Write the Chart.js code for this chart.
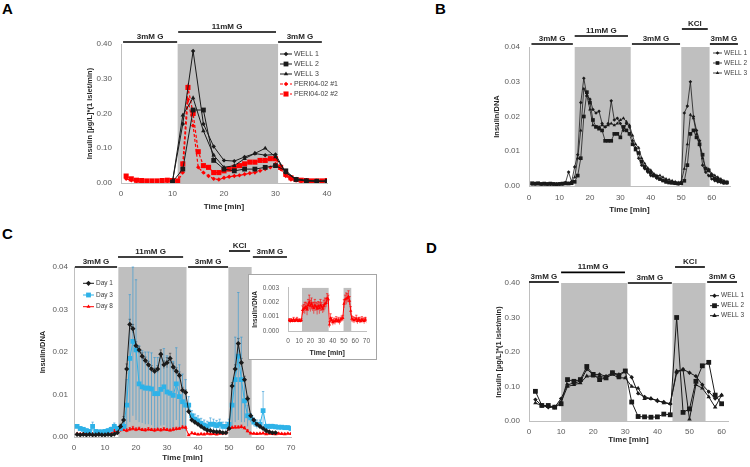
<!DOCTYPE html>
<html lang="en">
<head>
    <meta charset="UTF-8">
    <title>Perifusion insulin secretion</title>
    <style>
        * { margin: 0; padding: 0; box-sizing: border-box; }
        body { width: 750px; height: 467px; background: #fff; position: relative; overflow: hidden; font-family: "Liberation Sans", Arial, sans-serif; }
        canvas { position: absolute; display: block; }
        .tag { position: absolute; font: bold 15px/1 "Liberation Sans", Arial, sans-serif; color: #000; }
        .inset { position: absolute; left: 248px; top: 274px; width: 129px; height: 86px; border: 1px solid #a6a6a6; background: #fff; }
        .inset canvas { left: 0; top: 0; }
    </style>
    <script src="https://cdn.jsdelivr.net/npm/chart.js"></script>
</head>
<body>
    <div class="tag" style="left:2px; top:1px;">A</div>
    <div class="tag" style="left:435px; top:1px;">B</div>
    <div class="tag" style="left:2px; top:226px;">C</div>
    <div class="tag" style="left:426px; top:240px;">D</div>

    <canvas id="chartA" width="375" height="220" style="left:0; top:0;"></canvas>
    <canvas id="chartB" width="375" height="220" style="left:375px; top:0;"></canvas>
    <canvas id="chartC" width="375" height="242" style="left:0; top:225px;"></canvas>
    <canvas id="chartD" width="375" height="242" style="left:375px; top:225px;"></canvas>
    <div class="inset"><canvas id="chartInset" width="127" height="84"></canvas></div>

    <script>
        // ---- A: insulin [ug/L]*(1 islet/min)
        const timeAWells = [10, 12, 14, 16, 18, 20, 22, 24, 26, 28, 30, 32, 34, 36, 38, 40];
        const wellA1 = [0.005, 0.17, 0.38, 0.17, 0.105, 0.065, 0.063, 0.075, 0.085, 0.08, 0.082, 0.03, 0.012, 0.008, 0.006, 0.006];
        const wellA2 = [0.003, 0.04, 0.21, 0.21, 0.065, 0.04, 0.035, 0.04, 0.04, 0.045, 0.05, 0.035, 0.01, 0.006, 0.005, 0.005];
        const wellA3 = [0.004, 0.195, 0.245, 0.15, 0.08, 0.045, 0.05, 0.07, 0.085, 0.1, 0.075, 0.03, 0.01, 0.006, 0.005, 0.005];
        const timeAPeri = [1, 2, 3, 4, 5, 6, 7, 8, 9, 10, 11, 12, 13, 14, 15, 16, 17, 18, 19, 20,
                           21, 22, 23, 24, 25, 26, 27, 28, 29, 30, 31, 32, 33, 34, 35, 36, 37, 38, 39, 40];
        const periA1 = [0.012, 0.008, 0.005, 0.005, 0.004, 0.004, 0.004, 0.005, 0.005, 0.005,
                        0.005, 0.03, 0.24, 0.165, 0.045, 0.03, 0.02, 0.012, 0.01, 0.015,
                        0.018, 0.02, 0.022, 0.025, 0.028, 0.03, 0.035, 0.04, 0.045, 0.055,
                        0.04, 0.02, 0.01, 0.007, 0.005, 0.005, 0.004, 0.004, 0.004, 0.005];
        const periA2 = [0.02, 0.012, 0.008, 0.007, 0.006, 0.006, 0.006, 0.007, 0.008, 0.007,
                        0.006, 0.055, 0.275, 0.2, 0.09, 0.05, 0.045, 0.03, 0.03, 0.035,
                        0.04, 0.045, 0.05, 0.055, 0.06, 0.06, 0.065, 0.065, 0.07, 0.07,
                        0.045, 0.025, 0.015, 0.01, 0.008, 0.007, 0.006, 0.006, 0.006, 0.007];

        // ---- B: insulin/DNA, 3 wells
        const timeB = [1, 2, 3, 4, 5, 6, 7, 8, 9, 10, 11, 12, 13, 14, 15, 16, 17, 18, 19, 20,
                       21, 22, 23, 24, 25, 26, 27, 28, 29, 30, 31, 32, 33, 34, 35, 36, 37, 38, 39, 40,
                       41, 42, 43, 44, 45, 46, 47, 48, 49, 50, 51, 52, 53, 54, 55, 56, 57, 58, 59, 60,
                       61, 62, 63, 64, 65];
        const wellB1 = [0.0006, 0.0005, 0.0007, 0.0005, 0.0006, 0.0005, 0.0004, 0.0005, 0.0006, 0.0005,
                        0.0006, 0.001, 0.004, 0.0012, 0.0055, 0.009, 0.024, 0.031, 0.026, 0.025,
                        0.022, 0.021, 0.0215, 0.018, 0.017, 0.018, 0.0245, 0.019, 0.0195, 0.018,
                        0.016, 0.018, 0.017, 0.013, 0.011, 0.008, 0.006, 0.005, 0.004, 0.003,
                        0.003, 0.0022, 0.002, 0.0015, 0.0012, 0.001, 0.001, 0.0008, 0.0006, 0.001,
                        0.021, 0.023, 0.03, 0.02, 0.016, 0.013, 0.006, 0.004, 0.003, 0.002,
                        0.0015, 0.0012, 0.001, 0.0008, 0.0008];
        const wellB2 = [0.0008, 0.0007, 0.0008, 0.0006, 0.0007, 0.0006, 0.0007, 0.0006, 0.0005, 0.0006,
                        0.0007, 0.0008, 0.0007, 0.0008, 0.0012, 0.003, 0.008, 0.02, 0.027, 0.024,
                        0.019, 0.017, 0.0165, 0.016, 0.013, 0.013, 0.013, 0.015, 0.015, 0.014,
                        0.017, 0.016, 0.015, 0.012, 0.0105, 0.0095, 0.007, 0.0055, 0.0045, 0.0038,
                        0.003, 0.0026, 0.002, 0.0016, 0.0012, 0.001, 0.0009, 0.0008, 0.0007, 0.0008,
                        0.0015, 0.006, 0.015, 0.016, 0.014, 0.012, 0.009, 0.005, 0.0045, 0.003,
                        0.0022, 0.0018, 0.0014, 0.001, 0.001];
        const wellB3 = [0.0004, 0.0005, 0.0004, 0.0005, 0.0004, 0.0004, 0.0005, 0.0004, 0.0004, 0.0005,
                        0.0004, 0.0005, 0.0008, 0.0012, 0.0025, 0.008, 0.016, 0.028, 0.026, 0.022,
                        0.0175, 0.017, 0.017, 0.0175, 0.017, 0.0175, 0.018, 0.0175, 0.018, 0.019,
                        0.0195, 0.0185, 0.0175, 0.0145, 0.012, 0.011, 0.008, 0.0065, 0.0052, 0.0045,
                        0.0035, 0.003, 0.003, 0.0025, 0.002, 0.0018, 0.0015, 0.0012, 0.001, 0.0012,
                        0.005, 0.012, 0.0205, 0.0195, 0.015, 0.012, 0.008, 0.005, 0.0048, 0.0035,
                        0.003, 0.0025, 0.002, 0.0015, 0.0012];

        // ---- C: insulin/DNA by culture day, mean and error
        const timeC = [1, 2, 3, 4, 5, 6, 7, 8, 9, 10, 11, 12, 13, 14, 15, 16, 17, 18, 19, 20,
                       21, 22, 23, 24, 25, 26, 27, 28, 29, 30, 31, 32, 33, 34, 35, 36, 37, 38, 39, 40,
                       41, 42, 43, 44, 45, 46, 47, 48, 49, 50, 51, 52, 53, 54, 55, 56, 57, 58, 59, 60,
                       61, 62, 63, 64, 65, 66, 67, 68, 69, 70];
        const day1 = [0.0006, 0.0005, 0.0006, 0.0005, 0.0006, 0.0005, 0.0005, 0.0006, 0.0005, 0.0005,
                      0.0006, 0.0005, 0.0007, 0.001, 0.0025, 0.004, 0.016, 0.0265, 0.0255, 0.0215,
                      0.0205, 0.019, 0.018, 0.017, 0.016, 0.0155, 0.016, 0.0195, 0.017, 0.0175,
                      0.0185, 0.0165, 0.0155, 0.0145, 0.011, 0.0105, 0.006, 0.004, 0.0035, 0.003,
                      0.0025, 0.002, 0.0016, 0.0015, 0.0013, 0.0012, 0.0012, 0.001, 0.001, 0.002,
                      0.012, 0.016, 0.022, 0.0175, 0.0135, 0.009, 0.005, 0.004, 0.003, 0.0025,
                      0.002, 0.0015, 0.0012, 0.001, 0.001, null, null, null, null, null];
        const day1Err = [0.0002, 0.0002, 0.0002, 0.0002, 0.0002, 0.0002, 0.0002, 0.0002, 0.0002, 0.0002,
                         0.0002, 0.0002, 0.0002, 0.0003, 0.0005, 0.0008, 0.0012, 0.0012, 0.001, 0.0009,
                         0.0008, 0.0008, 0.0008, 0.0008, 0.0008, 0.0007, 0.0008, 0.001, 0.0009, 0.0012,
                         0.0012, 0.0009, 0.0008, 0.0008, 0.0007, 0.0006, 0.0005, 0.0005, 0.0004, 0.0003,
                         0.0003, 0.0003, 0.0003, 0.0002, 0.0002, 0.0002, 0.0002, 0.0002, 0.0002, 0.0003,
                         0.0008, 0.001, 0.0012, 0.001, 0.0008, 0.0006, 0.0004, 0.0003, 0.0002, 0.0002,
                         0.0002, 0.0002, 0.0002, 0.0002, 0.0002, null, null, null, null, null];
        const day3 = [0.0025, 0.002, 0.0018, 0.0015, 0.0013, 0.0025, 0.0013, 0.0012, 0.0012, 0.0013,
                      0.0015, 0.0018, 0.0025, 0.002, 0.002, 0.0025, 0.0075, 0.0185, 0.0225, 0.0205,
                      0.0125, 0.0118, 0.0115, 0.0115, 0.0113, 0.0102, 0.0102, 0.0112, 0.0118, 0.0106,
                      0.0103, 0.0098, 0.0125, 0.0095, 0.0083, 0.0075, 0.0075, 0.005, 0.0042, 0.0038,
                      0.0032, 0.0028, 0.0025, 0.003, 0.003, 0.0027, 0.003, 0.0025, 0.0025, 0.003,
                      0.0075, 0.0135, 0.019, 0.0135, 0.0085, 0.005, 0.0045, 0.0035, 0.003, 0.003,
                      0.0062, 0.0025, 0.0025, 0.0025, 0.0024, 0.0023, 0.0023, 0.0022, 0.0022, 0.002];
        const day3Err = [0.0004, 0.0004, 0.0004, 0.0004, 0.0004, 0.001, 0.0004, 0.0004, 0.0004, 0.0004,
                         0.0004, 0.0005, 0.0008, 0.0005, 0.0005, 0.0008, 0.006, 0.015, 0.0175, 0.0165,
                         0.009, 0.0085, 0.0085, 0.0085, 0.0085, 0.0085, 0.0085, 0.0085, 0.009, 0.0085,
                         0.0085, 0.008, 0.0085, 0.0075, 0.0065, 0.006, 0.002, 0.0012, 0.0012, 0.0012,
                         0.0012, 0.0012, 0.0012, 0.0015, 0.0012, 0.0012, 0.0012, 0.001, 0.001, 0.0012,
                         0.005, 0.01, 0.015, 0.01, 0.005, 0.0025, 0.001, 0.001, 0.001, 0.001,
                         0.0045, 0.0005, 0.0005, 0.0005, 0.0004, 0.0004, 0.0004, 0.0004, 0.0004, 0.0004];
        const day8 = [0.00075, 0.0007, 0.00075, 0.0007, 0.0008, 0.0007, 0.00075, 0.0008, 0.0007, 0.00075,
                      0.0007, 0.00075, 0.00145, 0.00155, 0.0016, 0.0017, 0.0015, 0.0018, 0.002, 0.00175,
                      0.0019, 0.0017, 0.0016, 0.0018, 0.0017, 0.00155, 0.00175, 0.0016, 0.0018, 0.0017,
                      0.00155, 0.00175, 0.0019, 0.00195, 0.0023, 0.0022, 0.00045, 0.0009, 0.00075, 0.0006,
                      0.0007, 0.00065, 0.0008, 0.0007, 0.00075, 0.00065, 0.0008, 0.00085, 0.0009, 0.0019,
                      0.0022, 0.00225, 0.0023, 0.0024, 0.0021, 0.0014, 0.00085, 0.0008, 0.00075, 0.0008,
                      0.00085, 0.0007, 0.0008, 0.00075, 0.0007, 0.0008, 0.00075, 0.0007, 0.0008, 0.00075];
        const day8Err = [0.0001, 0.00015, 0.0001, 0.0001, 0.00015, 0.0001, 0.0001, 0.00015, 0.0001, 0.0001,
                         0.0001, 0.0001, 0.0003, 0.0003, 0.0004, 0.0003, 0.0004, 0.0004, 0.0005, 0.0004,
                         0.0004, 0.0003, 0.0004, 0.0004, 0.0003, 0.0004, 0.0003, 0.0004, 0.0004, 0.0003,
                         0.0003, 0.0004, 0.0004, 0.0003, 0.0003, 0.0003, 0.0002, 0.0003, 0.0002, 0.0002,
                         0.0002, 0.0002, 0.0002, 0.00015, 0.0002, 0.0002, 0.00015, 0.0002, 0.0002, 0.0003,
                         0.0003, 0.0004, 0.0003, 0.0004, 0.0003, 0.0003, 0.0002, 0.0002, 0.0002, 0.00015,
                         0.00025, 0.0002, 0.00015, 0.0002, 0.00015, 0.0002, 0.00015, 0.0002, 0.00015, 0.0002];

        // ---- D: insulin [ug/L]*(1 islet/min), 2 min fractions
        const timeD = [2, 4, 6, 8, 10, 12, 14, 16, 18, 20, 22, 24, 26, 28, 30,
                       32, 34, 36, 38, 40, 42, 44, 46, 48, 50, 52, 54, 56, 58, 60];
        const wellD1 = [0.062, 0.045, 0.04, 0.04, 0.065, 0.105, 0.11, 0.115, 0.15, 0.135, 0.135, 0.13, 0.14, 0.135, 0.145,
                        0.127, 0.08, 0.07, 0.065, 0.058, 0.055, 0.05, 0.14, 0.15, 0.14, 0.13, 0.105, 0.085, 0.065, 0.075];
        const wellD2 = [0.086, 0.045, 0.045, 0.04, 0.05, 0.12, 0.115, 0.12, 0.158, 0.135, 0.12, 0.125, 0.14, 0.13, 0.145,
                        0.055, 0.013, 0.012, 0.011, 0.012, 0.02, 0.018, 0.30, 0.025, 0.035, 0.115, 0.16, 0.17, 0.075, 0.05];
        const wellD3 = [0.052, 0.045, 0.042, 0.04, 0.055, 0.1, 0.105, 0.11, 0.13, 0.13, 0.13, 0.125, 0.135, 0.125, 0.125,
                        0.1, 0.095, 0.065, 0.065, 0.06, 0.052, 0.05, 0.145, 0.148, 0.005, 0.105, 0.095, 0.07, 0.04, 0.075];

        // stimulation protocol (minutes)
        const shadesA = [[11, 30.5]];
        const shadesB = [[15, 33.4], [50, 59.3]];
        const shadesC = [[14.3, 36.3], [49.8, 57.3]];
        const shadesInset = [[12.5, 36.3], [49.6, 56.5]];
        const shadesD = [[10, 30.6], [44.7, 55]];

        Chart.defaults.font.family = "'Liberation Sans', Arial, sans-serif";
        Chart.defaults.color = '#595959';
        Chart.defaults.animation = false;

        const BLACK = '#1a1a1a', RED = '#ff0000', BLUE = '#2eb2e8';

        function marker(ctx, style, r, x, y) {
            if (Chart.helpers && Chart.helpers.drawPoint) {
                Chart.helpers.drawPoint(ctx, { pointStyle: style, radius: r, rotation: 0, borderWidth: 0 }, x, y);
                return;
            }
            ctx.beginPath();
            ctx.arc(x, y, r, 0, Math.PI * 2);
            ctx.fill();
        }

        const deco = {
            id: 'deco',
            beforeDatasetsDraw(chart, args, opts) {
                const { ctx, chartArea: a, scales: { x, y } } = chart;
                ctx.save();
                ctx.fillStyle = '#bfbfbf';
                (opts.shades || []).forEach(s => {
                    const x0 = x.getPixelForValue(s[0]), x1 = x.getPixelForValue(s[1]);
                    ctx.fillRect(x0, a.top, x1 - x0, a.bottom - a.top);
                });
                ctx.beginPath();
                ctx.rect(a.left, a.top - 1, a.right - a.left, a.bottom - a.top + 1);
                ctx.clip();
                chart.data.datasets.forEach((ds, i) => {
                    if (!ds.errors) return;
                    const meta = chart.getDatasetMeta(i);
                    ctx.strokeStyle = ds.errorColor;
                    ctx.lineWidth = ds.errorWidth || 0.8;
                    meta.data.forEach((pt, j) => {
                        const v = ds.data[j].y, e = ds.errors[j];
                        if (v == null || !e) return;
                        const top = y.getPixelForValue(v + e);
                        const bot = y.getPixelForValue(Math.max(v - e, 0));
                        ctx.beginPath();
                        ctx.moveTo(pt.x, top); ctx.lineTo(pt.x, bot);
                        ctx.moveTo(pt.x - 1.2, top); ctx.lineTo(pt.x + 1.2, top);
                        ctx.stroke();
                    });
                });
                ctx.restore();
            },
            afterDraw(chart, args, opts) {
                const { ctx, chartArea: a, scales: { x } } = chart;
                ctx.save();
                // protocol bars above the plot
                (opts.phases || []).forEach(p => {
                    const x0 = x.getPixelForValue(p.from), x1 = x.getPixelForValue(p.to);
                    const yb = a.top + p.dy;
                    ctx.strokeStyle = '#000';
                    ctx.lineWidth = 1.6;
                    ctx.beginPath(); ctx.moveTo(x0, yb); ctx.lineTo(x1, yb); ctx.stroke();
                    ctx.fillStyle = '#262626';
                    ctx.font = "bold 8px 'Liberation Sans', Arial, sans-serif";
                    ctx.textAlign = 'center'; ctx.textBaseline = 'middle';
                    ctx.fillText(p.text, (x0 + x1) / 2, yb - 5.5);
                });
                // legend
                const lg = opts.legend;
                if (lg) {
                    chart.data.datasets.forEach((ds, i) => {
                        if (lg.rows[i] == null) return;
                        const yy = lg.rows[i];
                        ctx.strokeStyle = ds.borderColor;
                        ctx.fillStyle = ds.borderColor;
                        ctx.lineWidth = ds.borderWidth;
                        ctx.setLineDash(ds.borderDash || []);
                        ctx.beginPath(); ctx.moveTo(lg.x1, yy); ctx.lineTo(lg.x2, yy); ctx.stroke();
                        ctx.setLineDash([]);
                        marker(ctx, ds.pointStyle, ds.pointRadius, (lg.x1 + lg.x2) / 2, yy);
                        ctx.fillStyle = '#404040';
                        ctx.font = lg.size + "px 'Liberation Sans', Arial, sans-serif";
                        ctx.textAlign = 'left'; ctx.textBaseline = 'middle';
                        ctx.fillText(ds.label, lg.tx, yy);
                    });
                }
                ctx.restore();
            }
        };

        function axes(c) {
            return {
                x: {
                    type: 'linear', min: 0, max: c.xmax,
                    grid: { display: false, drawTicks: false },
                    border: { color: '#bfbfbf' },
                    ticks: { stepSize: 10, includeBounds: false, autoSkip: false, maxRotation: 0, padding: c.xpad, font: { size: c.fs } },
                    title: { display: true, text: 'Time [min]', color: '#262626', font: { size: c.tfs, weight: 'bold' }, padding: { top: 0, bottom: c.tpb } },
                    afterFit: s => { s.height = c.xh; }
                },
                y: {
                    min: 0, max: c.ymax,
                    grid: { display: false, drawTicks: false },
                    border: { color: '#bfbfbf' },
                    ticks: { stepSize: c.ystep, autoSkip: false, padding: c.ypad, font: { size: c.fs }, callback: v => v.toFixed(c.dec) },
                    title: { display: true, text: c.ytitle, color: '#262626', font: { size: c.yfs, weight: 'bold' }, padding: { top: c.tpt, bottom: 0 } },
                    afterFit: s => { s.width = c.yw; }
                }
            };
        }

        function series(label, xs, ys, color, style, r, extra) {
            return Object.assign({
                label: label,
                data: xs.map((t, i) => ({ x: t, y: ys[i] })),
                borderColor: color, backgroundColor: color,
                pointBackgroundColor: color, pointBorderColor: color,
                borderWidth: 1, pointStyle: style, pointRadius: r, pointBorderWidth: 0,
                tension: 0, spanGaps: false
            }, extra || {});
        }

        function makeChart(id, cfg) {
            return new Chart(document.getElementById(id), {
                type: 'line',
                data: { datasets: cfg.datasets },
                options: {
                    responsive: false,
                    events: [],
                    layout: { padding: cfg.pad },
                    scales: axes(cfg.ax),
                    plugins: { legend: { display: false }, tooltip: { enabled: false }, deco: cfg.deco }
                },
                plugins: [deco]
            });
        }

        const dashed = { borderDash: [3, 2], borderWidth: 1.2 };

        makeChart('chartA', {
            pad: { left: 81, top: 44, right: 48, bottom: 4 },
            ax: { xmax: 40, ymax: 0.4, ystep: 0.1, dec: 2, fs: 8, tfs: 8, yfs: 7.5, xpad: 6, ypad: 9, xh: 33, yw: 40, tpb: 4, tpt: 4,
                  ytitle: 'Insulin [µg/L]*(1 islet/min)' },
            datasets: [
                series('WELL 1', timeAWells, wellA1, BLACK, 'rectRot', 2.2),
                series('WELL 2', timeAWells, wellA2, BLACK, 'rect', 3.4),
                series('WELL 3', timeAWells, wellA3, BLACK, 'triangle', 2.6),
                series('PERI04-02 #1', timeAPeri, periA1, RED, 'rectRot', 2.2, dashed),
                series('PERI04-02 #2', timeAPeri, periA2, RED, 'rect', 3.6, dashed)
            ],
            deco: {
                shades: shadesA,
                phases: [
                    { from: 0.4, to: 10.9, dy: -2, text: '3mM G' },
                    { from: 11.1, to: 30.1, dy: -12, text: '11mM G' },
                    { from: 30.5, to: 39, dy: -2, text: '3mM G' }
                ],
                legend: { x1: 280, x2: 292, tx: 294, size: 7, rows: [54, 64, 74, 84, 94] }
            }
        });

        makeChart('chartB', {
            pad: { left: 113, top: 47, right: 20, bottom: 1 },
            ax: { xmax: 66, ymax: 0.04, ystep: 0.01, dec: 2, fs: 8, tfs: 8, yfs: 7.5, xpad: 7, ypad: 9, xh: 33, yw: 41, tpb: 4, tpt: 4,
                  ytitle: 'Insulin/DNA' },
            datasets: [
                series('WELL 1', timeB, wellB1, BLACK, 'rectRot', 1.8, { borderWidth: 0.8 }),
                series('WELL 2', timeB, wellB2, BLACK, 'rect', 2.6, { borderWidth: 0.8 }),
                series('WELL 3', timeB, wellB3, BLACK, 'triangle', 2, { borderWidth: 0.8 })
            ],
            deco: {
                shades: shadesB,
                phases: [
                    { from: 0.8, to: 14.4, dy: -3, text: '3mM G' },
                    { from: 15, to: 32.5, dy: -11, text: '11mM G' },
                    { from: 33.8, to: 49.6, dy: -3, text: '3mM G' },
                    { from: 50.2, to: 58.7, dy: -18, text: 'KCl' },
                    { from: 59.4, to: 68.6, dy: -3, text: '3mM G' }
                ],
                legend: { x1: 338, x2: 347, tx: 349, size: 6.5, rows: [53, 63, 73] }
            }
        });

        makeChart('chartC', {
            pad: { left: 34, top: 42, right: 84, bottom: 0 },
            ax: { xmax: 70, ymax: 0.04, ystep: 0.01, dec: 2, fs: 8, tfs: 8, yfs: 7.5, xpad: 6, ypad: 6, xh: 30, yw: 40, tpb: 4, tpt: 4,
                  ytitle: 'Insulin/DNA' },
            datasets: [
                series('Day 1', timeC, day1, BLACK, 'rectRot', 2.6, { errors: day1Err, errorColor: '#333', errorWidth: 0.6 }),
                series('Day 3', timeC, day3, BLUE, 'rect', 3.4, { errors: day3Err, errorColor: 'rgba(46,150,210,0.75)', errorWidth: 0.8 }),
                series('Day 8', timeC, day8, RED, 'triangle', 2.3, { errors: day8Err, errorColor: RED, errorWidth: 0.6 })
            ],
            deco: {
                shades: shadesC,
                phases: [
                    { from: 0.3, to: 13.9, dy: 0, text: '3mM G' },
                    { from: 14.2, to: 35.2, dy: -10, text: '11mM G' },
                    { from: 36.8, to: 49.7, dy: 0, text: '3mM G' },
                    { from: 50, to: 56.8, dy: -16, text: 'KCl' },
                    { from: 57.7, to: 68.7, dy: -10, text: '3mM G' }
                ],
                legend: { x1: 83, x2: 94, tx: 96, size: 6.5, rows: [58.3, 70, 81.7] }
            }
        });

        makeChart('chartInset', {
            pad: { left: 0, top: 6, right: 7, bottom: 0 },
            ax: { xmax: 70, ymax: 0.003, ystep: 0.001, dec: 3, fs: 6.5, tfs: 7, yfs: 6.5, xpad: 6, ypad: 9, xh: 28, yw: 39, tpb: 2, tpt: 2,
                  ytitle: 'Insulin/DNA' },
            datasets: [
                series('Day 8', timeC, day8, RED, 'triangle', 1.9, { errors: day8Err, errorColor: RED, errorWidth: 0.6 })
            ],
            deco: { shades: shadesInset }
        });

        makeChart('chartD', {
            pad: { left: 115, top: 58, right: 22, bottom: 18 },
            ax: { xmax: 62, ymax: 0.4, ystep: 0.1, dec: 2, fs: 8, tfs: 8, yfs: 7.5, xpad: 6, ypad: 9, xh: 28, yw: 39, tpb: 4, tpt: 4,
                  ytitle: 'Insulin [µg/L]*(1 islet/min)' },
            datasets: [
                series('WELL 1', timeD, wellD1, BLACK, 'rectRot', 2.2),
                series('WELL 2', timeD, wellD2, BLACK, 'rect', 3.4),
                series('WELL 3', timeD, wellD3, BLACK, 'triangle', 2.6)
            ],
            deco: {
                shades: shadesD,
                phases: [
                    { from: 0, to: 9.3, dy: -1, text: '3mM G' },
                    { from: 10, to: 29.9, dy: -10.6, text: '11mM G' },
                    { from: 30.8, to: 44.5, dy: 0, text: '3mM G' },
                    { from: 45.5, to: 54.8, dy: -16, text: 'KCl' },
                    { from: 55.5, to: 64.8, dy: -1, text: '3mM G' }
                ],
                legend: { x1: 335, x2: 344, tx: 346, size: 6.5, rows: [70.7, 80.7, 90.7] }
            }
        });
    </script>
</body>
</html>
